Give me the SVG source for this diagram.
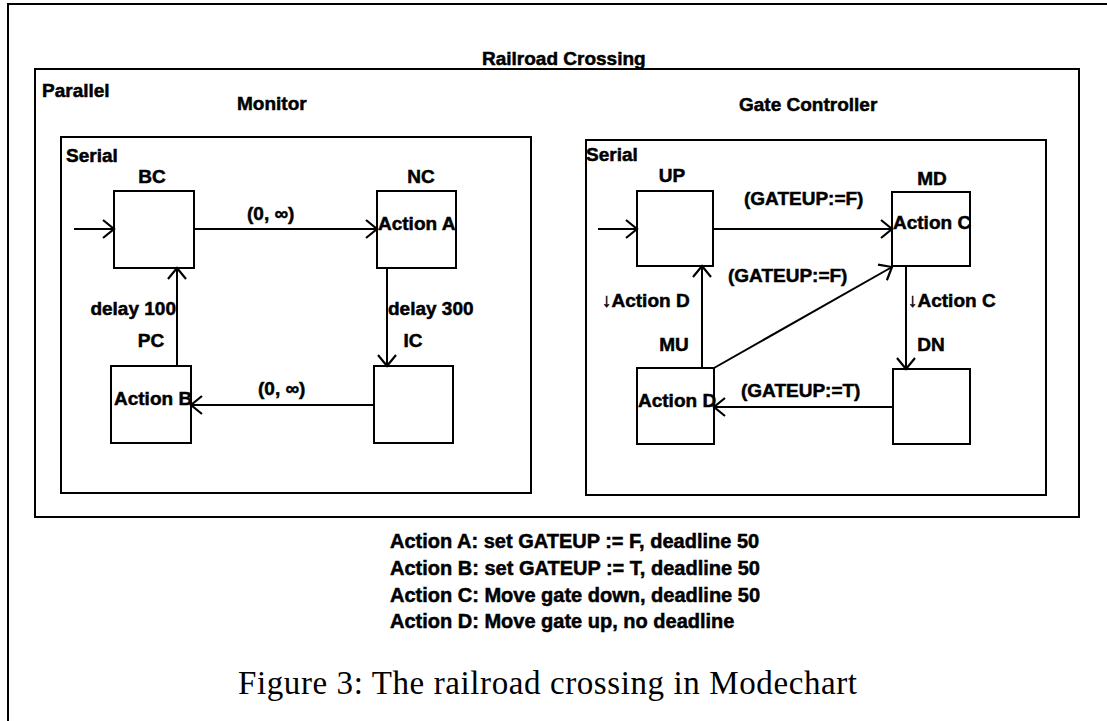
<svg xmlns="http://www.w3.org/2000/svg" width="1107" height="721" viewBox="0 0 1107 721">
<style>
.t{font-family:"Liberation Sans",Arial,sans-serif;font-weight:bold;font-size:19px;fill:#000;stroke:#000;stroke-width:0.5}
.lg{font-family:"Liberation Sans",Arial,sans-serif;font-weight:bold;font-size:20px;fill:#000;stroke:#000;stroke-width:0.5}
.cap{font-family:"Liberation Serif","Times New Roman",serif;font-size:33px;fill:#000}
.box{fill:none;stroke:#000;stroke-width:2}
.c{fill:none;stroke:#000;stroke-width:2;marker-end:url(#ah)}
.c0{fill:none;stroke:#000;stroke-width:2}
</style>
<defs>
<marker id="ah" markerUnits="userSpaceOnUse" markerWidth="30" markerHeight="30" viewBox="-15 -15 30 30" refX="0" refY="0" orient="auto">
<path d="M-11,-9 L0,0 L-11,9" fill="none" stroke="#000" stroke-width="2.2"/>
</marker>
</defs>
<rect x="0" y="0" width="1107" height="721" fill="#fff"/>
<g id="frame">
<path d="M8,721 L8,4 L1107,4" class="c0" stroke-width="2.5"/>
</g>
<g id="parallel">
<rect x="35" y="69" width="1044" height="448" class="box"/>
<text class="t" x="42" y="97">Parallel</text>
<text class="t" x="482" y="65">Railroad Crossing</text>
<text class="t" x="237" y="110">Monitor</text>
<text class="t" x="739" y="111">Gate Controller</text>
</g>
<g id="monitor-serial">
<rect x="61" y="137" width="470" height="356" class="box"/>
<text class="t" x="66" y="162">Serial</text>
</g>
<g id="gate-serial">
<rect x="586" y="140" width="460" height="355" class="box"/>
<text class="t" x="586" y="161">Serial</text>
</g>
<g id="BC">
<rect x="114" y="191" width="80" height="77" class="box"/>
<text class="t" x="152" y="183" text-anchor="middle">BC</text>
</g>
<g id="NC">
<rect x="377" y="191" width="79" height="77" class="box"/>
<text class="t" x="421" y="183" text-anchor="middle">NC</text>
<text class="t" x="378" y="230">Action A</text>
</g>
<g id="IC">
<rect x="374" y="366" width="79" height="77" class="box"/>
<text class="t" x="413" y="347" text-anchor="middle">IC</text>
</g>
<g id="PC">
<rect x="111" y="366" width="80" height="77" class="box"/>
<text class="t" x="151" y="347" text-anchor="middle">PC</text>
<text class="t" x="114" y="405">Action B</text>
</g>
<g id="UP">
<rect x="637" y="191" width="76" height="75" class="box"/>
<text class="t" x="672" y="182" text-anchor="middle">UP</text>
</g>
<g id="MD">
<rect x="892" y="192" width="78" height="74" class="box"/>
<text class="t" x="932" y="185" text-anchor="middle">MD</text>
<text class="t" x="893" y="229">Action C</text>
</g>
<g id="DN">
<rect x="893" y="369" width="77" height="75" class="box"/>
<text class="t" x="931" y="351" text-anchor="middle">DN</text>
</g>
<g id="MU">
<rect x="637" y="368" width="77" height="76" class="box"/>
<text class="t" x="674" y="351" text-anchor="middle">MU</text>
<text class="t" x="638" y="407">Action D</text>
</g>
<g id="connectors">
<line x1="74" y1="229" x2="114" y2="229" class="c"/>
<line x1="194" y1="229" x2="377" y2="229" class="c"/>
<line x1="387" y1="268" x2="387" y2="366" class="c"/>
<line x1="374" y1="405" x2="191" y2="405" class="c"/>
<line x1="177" y1="366" x2="177" y2="268" class="c"/>
<line x1="598" y1="229" x2="637" y2="229" class="c"/>
<line x1="713" y1="229" x2="892" y2="229" class="c"/>
<line x1="906" y1="266" x2="906" y2="369" class="c"/>
<line x1="893" y1="407" x2="714" y2="407" class="c"/>
<line x1="702" y1="368" x2="702" y2="266" class="c"/>
<line x1="714" y1="368" x2="892" y2="267" class="c"/>
<text class="t" x="247" y="220">(0, ∞)</text>
<text class="t" x="258" y="395">(0, ∞)</text>
<text class="t" x="176" y="315" text-anchor="end">delay 100</text>
<text class="t" x="388" y="315">delay 300</text>
<text class="t" x="744" y="205">(GATEUP:=F)</text>
<text class="t" x="728" y="282">(GATEUP:=F)</text>
<text class="t" x="741" y="397">(GATEUP:=T)</text>
<text class="t" x="602" y="307">↓Action D</text>
<text class="t" x="908" y="307">↓Action C</text>
</g>
<g id="legend">
<text class="lg" x="390" y="548">Action A: set GATEUP := F, deadline 50</text>
<text class="lg" x="390" y="575">Action B: set GATEUP := T, deadline 50</text>
<text class="lg" x="390" y="602">Action C: Move gate down, deadline 50</text>
<text class="lg" x="390" y="628">Action D: Move gate up, no deadline</text>
</g>
<g id="caption">
<text class="cap" x="238" y="694" textLength="619" lengthAdjust="spacing">Figure 3: The railroad crossing in Modechart</text>
</g>
</svg>
